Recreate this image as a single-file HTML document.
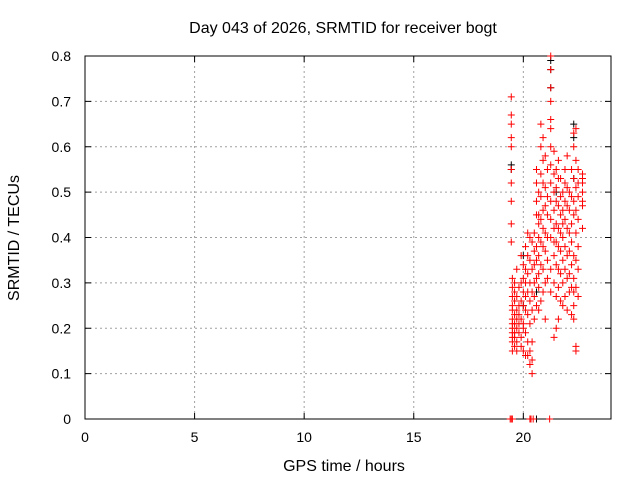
<!DOCTYPE html>
<html><head><meta charset="utf-8"><style>
body{margin:0;background:#fff;}
svg text{font-family:"Liberation Sans",sans-serif;font-size:14px;fill:#000;}
svg text.big{font-size:16px;}
</style></head><body>
<svg id="chart" width="640" height="480" xmlns="http://www.w3.org/2000/svg">
<rect width="640" height="480" fill="#fff"/>
<g id="grid"></g>
<g id="axes"></g>
<g id="marks"></g>
<text class="big" x="343" y="33" text-anchor="middle">Day 043 of 2026, SRMTID for receiver bogt</text>
<text class="big" x="344" y="471" text-anchor="middle">GPS time / hours</text>
<text class="big" transform="translate(19,238) rotate(-90)" text-anchor="middle">SRMTID / TECUs</text>
</svg>
<script>
const xTicks=[0,5,10,15,20];
const yTicks=[0,0.1,0.2,0.3,0.4,0.5,0.6,0.7,0.8];
const yTickLabels=["0","0.1","0.2","0.3","0.4","0.5","0.6","0.7","0.8"];
const redColX=[19.45,19.5,19.6,19.7,19.8,19.9,20.0,20.1,20.2,20.3,20.4,20.5,20.6,20.7,20.8,20.9,21.0,21.1,21.25,21.4,21.5,21.6,21.7,21.8,21.9,22.0,22.1,22.2,22.3,22.4,22.5,22.7];
const redColY=[[.71,.67,.65,.62,.60,.55,.52,.48,.43,.39],[.31,.29,.27,.25,.24,.22,.21,.20,.19,.18,.17,.15],[.30,.28,.26,.23,.21,.19,.18,.16],[.33,.27,.24,.22,.20,.17,.15],[.29,.25,.23,.21,.19],[.36,.30,.26,.22,.18,.16],[.34,.31,.28,.25,.21,.20,.15],[.38,.33,.30,.27,.24,.19,.14],[.41,.36,.32,.28,.23,.17,.14],[.40,.35,.30,.26,.21,.15,.12],[.39,.33,.28,.24,.17,.13,.10],[.41,.37,.34,.30,.27,.22],[.55,.52,.48,.45,.38,.35,.31,.25],[.50,.45,.43,.40,.36,.32,.29,.24],[.65,.60,.54,.49,.44,.39,.34,.26],[.62,.57,.52,.46,.42,.38,.33,.28],[.58,.51,.47,.41,.37,.30,.22],[.55,.49,.45,.40,.35,.31],[.80,.77,.73,.70,.66,.64,.60,.56,.52,.48,.44,.40,.33,.28],[.59,.54,.50,.46,.42,.39,.36,.30,.18],[.55,.51,.48,.43,.39,.34,.27,.20],[.57,.53,.47,.42,.38,.33,.29,.22],[.53,.49,.45,.41,.37,.32,.26],[.50,.46,.43,.40,.35,.30,.25],[.55,.52,.48,.44,.38,.33,.27],[.58,.51,.47,.42,.36,.31,.24],[.50,.46,.41,.37,.32,.28],[.55,.49,.43,.39,.34,.29,.23],[.63,.60,.53,.48,.45,.36,.31,.28,.25,.22],[.64,.57,.51,.46,.41,.35,.29,.16,.15],[.55,.52,.49,.44,.38,.33,.27],[.54,.53,.52,.50,.48,.47,.42]];
const redZeroX=[19.4,19.45,19.5,20.3,20.35,20.45,21.2];
const blackX=[19.45,19.45,20.0,20.0,20.6,21.25,21.25,21.25,21.5,22.3,22.3,22.3,20.6];
const blackY=[.56,.55,.36,.25,.28,.79,.77,.73,.50,.65,.62,.53,0];
const L=85,R=611,T=56,B=419,XMAX=24,YMAX=0.8;
const sx=v=>L+(R-L)*v/XMAX, sy=v=>B-(B-T)*v/YMAX;
const NS="http://www.w3.org/2000/svg";
function mk(tag,parent,attrs){const e=document.createElementNS(NS,tag);for(const k in attrs)e.setAttribute(k,attrs[k]);parent.appendChild(e);return e;}
const grid=document.getElementById('grid'),axes=document.getElementById('axes'),marks=document.getElementById('marks');
xTicks.forEach(t=>{const x=sx(t);
 if(t>0){const g=mk('line',grid,{x1:x,y1:T,x2:x,y2:B,stroke:'#a0a0a0','stroke-dasharray':'2,3'});}
 mk('line',axes,{x1:x,y1:B,x2:x,y2:B-6,stroke:'#000'});mk('line',axes,{x1:x,y1:T,x2:x,y2:T+6,stroke:'#000'});
 const tx=mk('text',axes,{x:x,y:442,'text-anchor':'middle'});tx.textContent=t;
 });
yTicks.forEach((t,i)=>{const y=sy(t);
 if(t>0&&t<YMAX){const g=mk('line',grid,{x1:L,y1:y,x2:R,y2:y,stroke:'#a0a0a0','stroke-dasharray':'2,3'});}
 mk('line',axes,{x1:L,y1:y,x2:L+6,y2:y,stroke:'#000'});mk('line',axes,{x1:R,y1:y,x2:R-6,y2:y,stroke:'#000'});
 const tx=mk('text',axes,{x:71,y:y+5,'text-anchor':'end'});tx.textContent=yTickLabels[i];
 });
const fr=mk('rect',axes,{x:L,y:T,width:R-L,height:B-T,fill:'none',stroke:'#000'});

function plus(x,y,c,name){const p=mk('path',marks,{d:`M${sx(x)-3.5},${sy(y)}h7M${sx(x)},${sy(y)-3.5}v7`,stroke:c,'stroke-width':1,fill:'none'});
 }
blackX.forEach((x,i)=>plus(x,blackY[i],'#000','black-point'));
redColX.forEach((x,i)=>redColY[i].forEach(y=>plus(x,y,'#f00','red-point')));
redZeroX.forEach(x=>plus(x,0,'#f00','red-point'));
</script>
</body></html>
